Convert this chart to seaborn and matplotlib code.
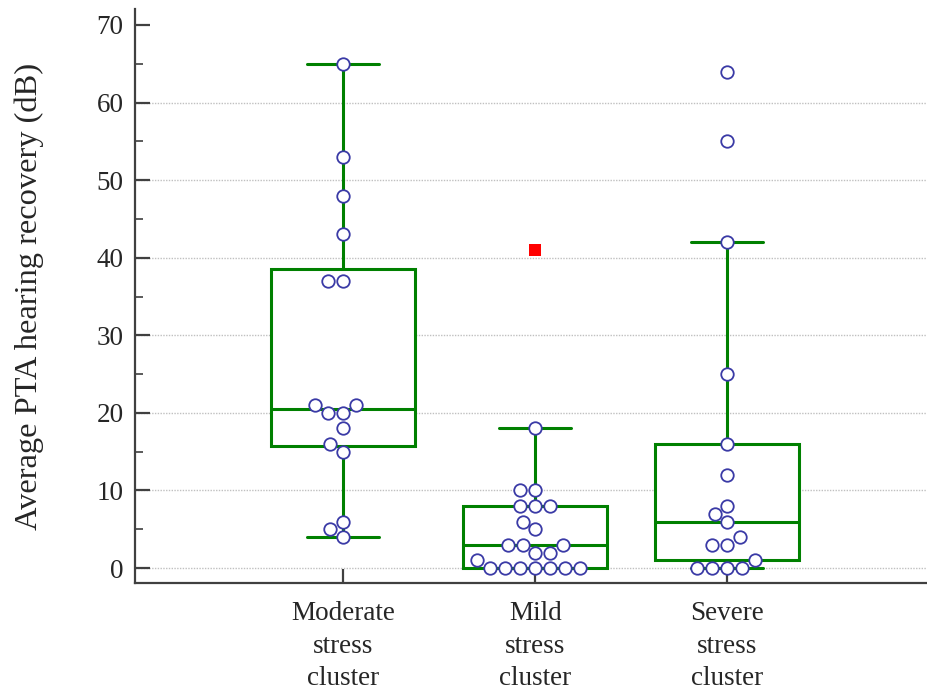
import numpy as np
import pandas as pd
import matplotlib
matplotlib.use("Agg")
import matplotlib.pyplot as plt
import seaborn as sns
from matplotlib.ticker import MultipleLocator

# ---- data ----
categories = ["Moderate\nstress\ncluster", "Mild\nstress\ncluster", "Severe\nstress\ncluster"]
moderate = [65, 53, 48, 43, 37, 37, 21, 21, 20, 20, 18, 16, 15, 6, 5, 4]
mild = [18, 10, 10, 8, 8, 8, 6, 5, 3, 3, 3, 2, 2, 1, 0, 0, 0, 0, 0, 0, 0]
mild_far_out = [41]
severe = [64, 55, 42, 25, 16, 12, 8, 7, 6, 4, 3, 3, 1, 0, 0, 0, 0]
grid_values = [0, 10, 20, 30, 40, 50, 60]
y_label = "Average PTA hearing recovery (dB)"

# ---- tables ----
df_points = pd.DataFrame({
    "group": [categories[0]] * len(moderate) + [categories[1]] * len(mild) + [categories[2]] * len(severe),
    "value": moderate + mild + severe,
})
df_far = pd.DataFrame({"group": [categories[1]] * len(mild_far_out), "value": mild_far_out})
df_box = pd.concat([df_points, df_far], ignore_index=True)

sns.set_theme(style="white")
plt.rcParams["font.family"] = ["Liberation Serif", "DejaVu Serif"]

fig = plt.figure(figsize=(9.27, 6.93), dpi=100)
ax = fig.add_axes([0.1451, 0.1587, 0.8549, 0.8283])

for gv in grid_values:
    ax.axhline(gv, linestyle=(0, (1, 1)), color="#c0c0c0", linewidth=1.0, zorder=0)

green = "#008000"
sns.boxplot(data=df_box, x="group", y="value", order=categories, width=0.75,
            whis=2.0, showfliers=False, color="white", linecolor=green,
            linewidth=2.2, saturation=1, ax=ax)
sns.swarmplot(data=df_points, x="group", y="value", order=categories, size=9,
              color="white", edgecolor="#3a3aa6", linewidth=1.3, zorder=3, ax=ax)
sns.stripplot(data=df_far, x="group", y="value", order=categories, marker="s",
              size=9, color="red", jitter=False, linewidth=0, zorder=4, ax=ax)

ax.set_xlim(-1.086, 3.04)
ax.set_ylim(-1.93, 72.06)
ax.yaxis.set_major_locator(MultipleLocator(10))
ax.yaxis.set_minor_locator(MultipleLocator(5))
ax.grid(False)

spine_c = "#404040"
for s in ["top", "right"]:
    ax.spines[s].set_visible(False)
for s in ["left", "bottom"]:
    ax.spines[s].set_color(spine_c)
    ax.spines[s].set_linewidth(1.6)

ax.tick_params(axis="y", which="major", direction="in", length=11, width=1.6,
               color=spine_c, labelsize=19.5, pad=8, left=True)
ax.tick_params(axis="y", which="minor", direction="in", length=6, width=1.2,
               color=spine_c, left=True)
ax.tick_params(axis="x", which="major", direction="in", length=10, width=1.6,
               color=spine_c, labelsize=19.5, pad=13, bottom=True)
for lbl in ax.get_xticklabels():
    lbl.set_linespacing(1.4)

ax.set_xlabel("")
ax.set_ylabel(y_label, fontsize=23.4)
ax.yaxis.set_label_coords(-0.114, 0.5)

fig.savefig("out.png", dpi=100)
